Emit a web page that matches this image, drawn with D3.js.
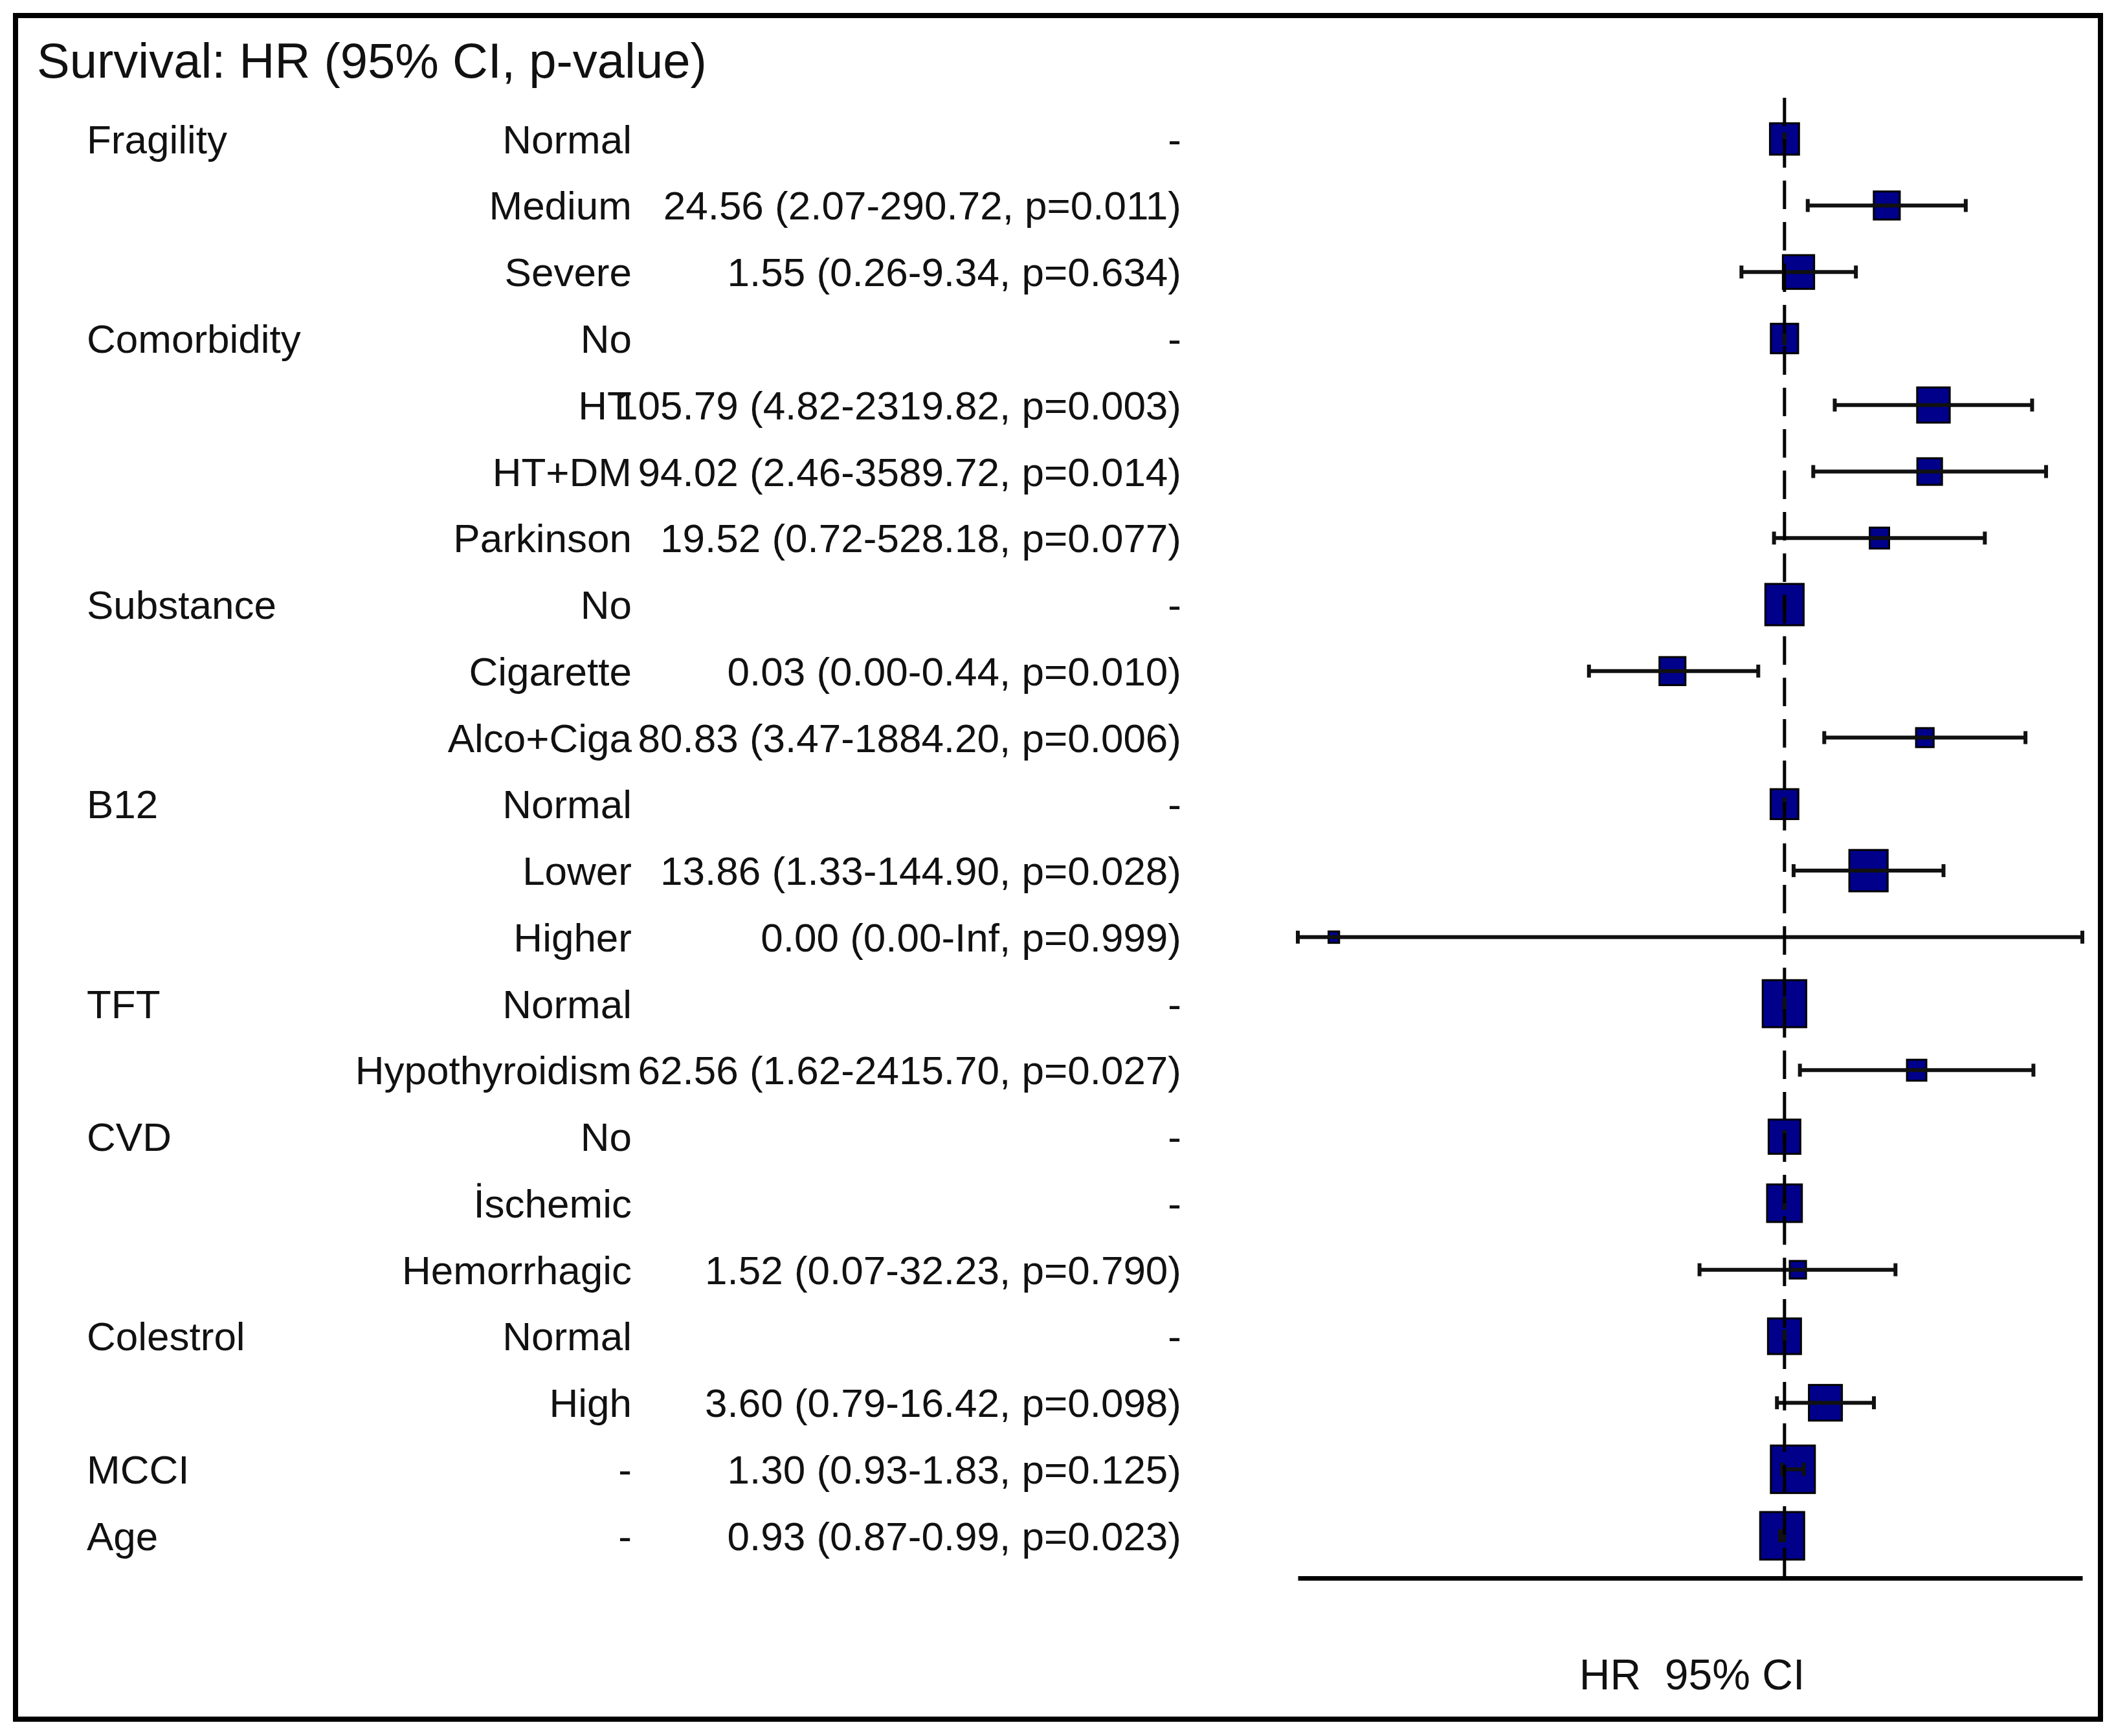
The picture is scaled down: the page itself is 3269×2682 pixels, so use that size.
<!DOCTYPE html>
<html>
<head>
<meta charset="utf-8">
<script src="https://cdn.jsdelivr.net/npm/d3@7"></script>
<style>
  html, body { margin: 0; padding: 0; background: #ffffff; }
  svg { display: block; }
  text { font-family: "Liberation Sans", Arial, sans-serif; }
</style>
</head>
<body>
<script>
// ---------------- data ----------------
const chartTitle = "Survival: HR (95% CI, p-value)";
const axisTitle = "HR  95% CI";

const rowGroups = ["Fragility", "", "", "Comorbidity", "", "", "", "Substance", "", "", "B12", "", "",
  "TFT", "", "CVD", "", "", "Colestrol", "", "MCCI", "Age"];
const rowLevels = ["Normal", "Medium", "Severe", "No", "HT", "HT+DM", "Parkinson", "No", "Cigarette",
  "Alco+Ciga", "Normal", "Lower", "Higher", "Normal", "Hypothyroidism", "No", "İschemic", "Hemorrhagic",
  "Normal", "High", "-", "-"];
// reference rows show "-" instead of an estimate
const isReference = [true, false, false, true, false, false, false, true, false, false, true, false, false,
  true, false, true, true, false, true, false, false, false];
const hrValues = [1, 24.56, 1.55, 1, 105.79, 94.02, 19.52, 1, 0.03, 80.83, 1, 13.86, 7.5e-7,
  1, 62.56, 1, 1, 1.52, 1, 3.60, 1.30, 0.93];
const ciLower = [1, 2.07, 0.26, 1, 4.82, 2.46, 0.72, 1, 0.0022, 3.47, 1, 1.33, 0,
  1, 1.62, 1, 1, 0.07, 1, 0.79, 0.93, 0.87];
const ciUpper = [1, 290.72, 9.34, 1, 2319.82, 3589.72, 528.18, 1, 0.44, 1884.20, 1, 144.90, Infinity,
  1, 2415.70, 1, 1, 32.23, 1, 16.42, 1.83, 0.99];
const pValues = [null, 0.011, 0.634, null, 0.003, 0.014, 0.077, null, 0.010, 0.006, null, 0.028, 0.999,
  null, 0.027, null, null, 0.790, null, 0.098, 0.125, 0.023];
// relative weight of each level (box size)
const markWeight = [0.66, 0.59, 0.71, 0.62, 0.74, 0.56, 0.44, 0.87, 0.59, 0.40, 0.63, 0.87, 0.24,
  0.99, 0.44, 0.72, 0.79, 0.37, 0.75, 0.75, 1.00, 1.00];
const xDomain = [2.43e-7, 11170];

// ---------------- layout ----------------
const W = 3269, H = 2682;
const fmt = v => (v === Infinity ? "Inf" : v.toFixed(2));
const rows = rowLevels.map((lev, i) => ({
  i, group: rowGroups[i], level: lev, ref: isReference[i],
  hr: hrValues[i], lo: ciLower[i], hi: ciUpper[i], p: pValues[i], w: markWeight[i],
  label: isReference[i] ? "-" :
    `${fmt(hrValues[i])} (${fmt(ciLower[i])}-${fmt(ciUpper[i])}, p=${pValues[i].toFixed(3)})`
}));

const svg = d3.select("body").append("svg").attr("width", W).attr("height", H);
svg.append("rect").attr("width", W).attr("height", H).attr("fill", "#fff");

// outer frame
svg.append("rect").attr("x", 24).attr("y", 24).attr("width", 3221).attr("height", 2632)
  .attr("fill", "none").attr("stroke", "#000").attr("stroke-width", 8);

// title
svg.append("text").attr("x", 57).attr("y", 120).attr("font-size", 76).attr("fill", "#111")
  .text(chartTitle);

const y = d3.scalePoint().domain(d3.range(rows.length)).range([214.7, 2372.7]);
const x = d3.scaleLog().domain(xDomain).range([2005, 3217]).clamp(true);
const size = d3.scaleLinear().domain([0, 1]).range([0, 68]);
const fs = 62, base = 22;
const clampV = v => Math.min(Math.max(v, xDomain[0]), xDomain[1]);

// text table
const tbl = svg.append("g").attr("font-size", fs).attr("fill", "#111");
tbl.selectAll("text.grp").data(rows.filter(d => d.group)).join("text").attr("class", "grp")
  .attr("x", 134).attr("y", d => y(d.i) + base).text(d => d.group);
tbl.selectAll("text.lev").data(rows).join("text").attr("class", "lev")
  .attr("x", 976).attr("y", d => y(d.i) + base).attr("text-anchor", "end").text(d => d.level);
tbl.selectAll("text.est").data(rows).join("text").attr("class", "est")
  .attr("x", 1825).attr("y", d => y(d.i) + base).attr("text-anchor", "end").text(d => d.label);

// plot panel
const plot = svg.append("g");
const yTop = 151, yBot = 2438;

// boxes
plot.selectAll("rect.box").data(rows).join("rect").attr("class", "box")
  .attr("x", d => x(d.hr) - size(d.w) / 2)
  .attr("y", d => y(d.i) - size(d.w) * 1.08 / 2)
  .attr("width", d => size(d.w)).attr("height", d => size(d.w) * 1.08)
  .attr("fill", "#00008B").attr("stroke", "#000").attr("stroke-width", 3);

// error bars
const eb = plot.selectAll("g.eb").data(rows).join("g").attr("class", "eb")
  .attr("stroke", "#111").attr("stroke-width", 6);
eb.append("line").attr("x1", d => x(clampV(d.lo))).attr("x2", d => x(clampV(d.hi)))
  .attr("y1", d => y(d.i)).attr("y2", d => y(d.i));
eb.append("line").attr("x1", d => x(clampV(d.lo))).attr("x2", d => x(clampV(d.lo)))
  .attr("y1", d => y(d.i) - 10).attr("y2", d => y(d.i) + 10);
eb.append("line").attr("x1", d => x(clampV(d.hi))).attr("x2", d => x(clampV(d.hi)))
  .attr("y1", d => y(d.i) - 10).attr("y2", d => y(d.i) + 10);

// x axis line
const axis = d3.axisBottom(x).tickValues([]).tickSizeOuter(0);
const ax = plot.append("g").attr("transform", `translate(0,${yBot})`).call(axis);
ax.select(".domain").attr("stroke", "#000").attr("stroke-width", 7);

// reference line at HR = 1
plot.append("line").attr("x1", x(1)).attr("x2", x(1)).attr("y1", yTop).attr("y2", yBot)
  .attr("stroke", "#000").attr("stroke-width", 5).attr("stroke-dasharray", "44,20");

// axis title
svg.append("text").attr("x", 2614).attr("y", 2610).attr("text-anchor", "middle")
  .attr("font-size", 66).attr("fill", "#111").style("white-space", "pre").text(axisTitle);
</script>
</body>
</html>
